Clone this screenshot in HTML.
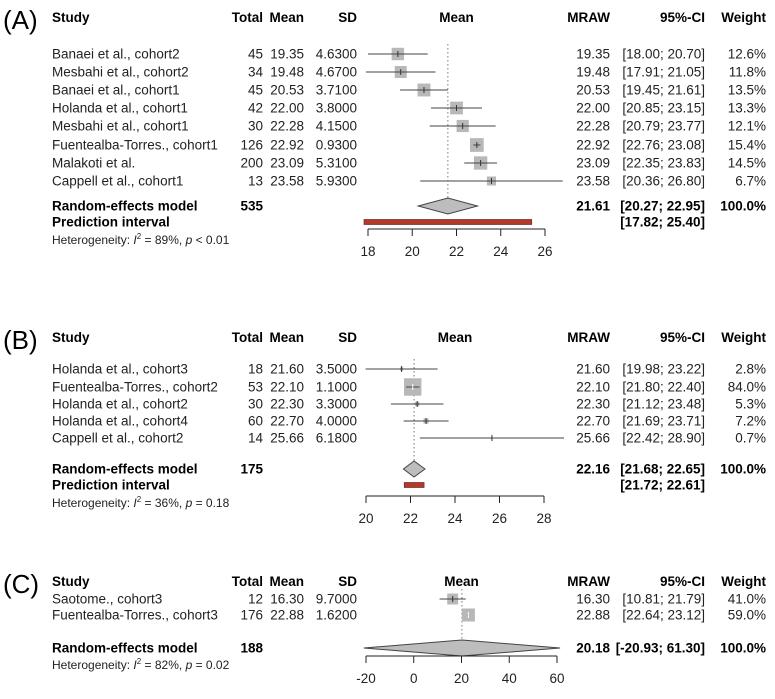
<!DOCTYPE html>
<html><head><meta charset="utf-8"><style>
body{margin:0;background:#fff;}
svg{display:block;font-family:"Liberation Sans",Arial,sans-serif;}
</style></head><body>
<svg id="c" width="775" height="699" xmlns="http://www.w3.org/2000/svg"></svg>
<script>
// ---- Panel A data ----
const studiesA = ["Banaei et al., cohort2","Mesbahi et al., cohort2","Banaei et al., cohort1","Holanda et al., cohort1","Mesbahi et al., cohort1","Fuentealba-Torres., cohort1","Malakoti et al.","Cappell et al., cohort1"];
const totalA = [45,34,45,42,30,126,200,13];
const meanA = [19.35,19.48,20.53,22.00,22.28,22.92,23.09,23.58];
const sdA = ["4.6300","4.6700","3.7100","3.8000","4.1500","0.9300","5.3100","5.9300"];
const lowA = [18.00,17.91,19.45,20.85,20.79,22.76,22.35,20.36];
const highA = [20.70,21.05,21.61,23.15,23.77,23.08,23.83,26.80];
const weightA = [12.6,11.8,13.5,13.3,12.1,15.4,14.5,6.7];
const ticksA = [18,20,22,24,26];
const pooledA = {n:535, m:21.61, lo:20.27, hi:22.95, plo:17.82, phi:25.40, het:"89%", p:"p < 0.01"};
// ---- Panel B data ----
const studiesB = ["Holanda et al., cohort3","Fuentealba-Torres., cohort2","Holanda et al., cohort2","Holanda et al., cohort4","Cappell et al., cohort2"];
const totalB = [18,53,30,60,14];
const meanB = [21.60,22.10,22.30,22.70,25.66];
const sdB = ["3.5000","1.1000","3.3000","4.0000","6.1800"];
const lowB = [19.98,21.80,21.12,21.69,22.42];
const highB = [23.22,22.40,23.48,23.71,28.90];
const weightB = [2.8,84.0,5.3,7.2,0.7];
const ticksB = [20,22,24,26,28];
const pooledB = {n:175, m:22.16, lo:21.68, hi:22.65, plo:21.72, phi:22.61, het:"36%", p:"p = 0.18"};
// ---- Panel C data ----
const studiesC = ["Saotome., cohort3","Fuentealba-Torres., cohort3"];
const totalC = [12,176];
const meanC = [16.30,22.88];
const sdC = ["9.7000","1.6200"];
const lowC = [10.81,22.64];
const highC = [21.79,23.12];
const weightC = [41.0,59.0];
const ticksC = [-20,0,20,40,60];
const pooledC = {n:188, m:20.18, lo:-20.93, hi:61.30, plo:null, phi:null, het:"82%", p:"p = 0.02"};

const NS="http://www.w3.org/2000/svg";
const svg=document.getElementById('c');
function el(tag,attrs,parent,text){const e=document.createElementNS(NS,tag);for(const k in attrs)e.setAttribute(k,attrs[k]);if(text!==undefined)e.textContent=text;(parent||svg).appendChild(e);return e;}
function f2(v){return v.toFixed(2);}
function ci(a,b){const s=v=>(v>=0&&v<10?" ":"")+f2(v);return "["+s(a)+"; "+f2(b)+"]";}
const FS=13.5;
function panel(cfg){
  const g=el('g',{});
  
  
  const x=v=>cfg.x0+(v-cfg.t0)/(cfg.t1-cfg.t0)*(cfg.x1-cfg.x0);
  const lab=el('text',{x:3,y:cfg.hy+11,'font-size':26,fill:'#000'},g,cfg.label);
  
  const hdr=el('g',{'font-size':FS,'font-weight':'bold'},g);
  
  el('text',{x:52,y:cfg.hy+4},hdr,'Study');
  el('text',{x:263,y:cfg.hy+4,'text-anchor':'end'},hdr,'Total');
  el('text',{x:304,y:cfg.hy+4,'text-anchor':'end'},hdr,'Mean');
  el('text',{x:357,y:cfg.hy+4,'text-anchor':'end'},hdr,'SD');
  el('text',{x:(cfg.x0+cfg.x1)/2,y:cfg.hy+4,'text-anchor':'middle'},hdr,'Mean');
  el('text',{x:610,y:cfg.hy+4,'text-anchor':'end'},hdr,'MRAW');
  el('text',{x:705,y:cfg.hy+4,'text-anchor':'end'},hdr,'95%-CI');
  el('text',{x:766,y:cfg.hy+4,'text-anchor':'end'},hdr,'Weight');
  const rl=el('line',{x1:x(cfg.pooled.m),x2:x(cfg.pooled.m),y1:cfg.ry[0]-10,y2:cfg.reY,stroke:'#777','stroke-dasharray':'1.5,2.5','stroke-width':1},g);
  
  cfg.studies.forEach((s,i)=>{
    const y=cfg.ry[i];
    const r=el('g',{'font-size':FS,fill:'#222'},g);
    
    el('text',{x:52,y:y+4.5},r,s);
    el('text',{x:263,y:y+4.5,'text-anchor':'end'},r,cfg.total[i]);
    el('text',{x:304,y:y+4.5,'text-anchor':'end'},r,f2(cfg.mean[i]));
    el('text',{x:357,y:y+4.5,'text-anchor':'end'},r,cfg.sd[i]);
    el('text',{x:610,y:y+4.5,'text-anchor':'end'},r,f2(cfg.mean[i]));
    el('text',{x:705,y:y+4.5,'text-anchor':'end'},r,ci(cfg.low[i],cfg.high[i]));
    el('text',{x:766,y:y+4.5,'text-anchor':'end'},r,cfg.weight[i].toFixed(1)+'%');
    const sz=cfg.sq*Math.sqrt(cfg.weight[i]);
    const sq=el('rect',{x:x(cfg.mean[i])-sz/2,y:y-sz/2,width:sz,height:sz,fill:'#b8b8b8'},g);
    
    const ln=el('line',{x1:x(cfg.low[i]),x2:x(cfg.high[i]),y1:y,y2:y,stroke:'#444','stroke-width':1},g);
    
    el('line',{x1:x(cfg.mean[i]),x2:x(cfg.mean[i]),y1:y-3,y2:y+3,stroke:cfg.weight[i]>50||sz>16&&cfg.weight[i]>14?'#fff':'#333','stroke-width':1},g);
  });
  const p=cfg.pooled, y=cfg.reY;
  const rt=el('g',{'font-size':FS,'font-weight':'bold'},g);
  
  el('text',{x:52,y:y+4.5},rt,'Random-effects model');
  el('text',{x:263,y:y+4.5,'text-anchor':'end'},rt,p.n);
  el('text',{x:610,y:y+4.5,'text-anchor':'end'},rt,f2(p.m));
  el('text',{x:705,y:y+4.5,'text-anchor':'end'},rt,ci(p.lo,p.hi));
  el('text',{x:766,y:y+4.5,'text-anchor':'end'},rt,'100.0%');
  const lo=Math.max(p.lo,cfg.t0-0.08*(cfg.t1-cfg.t0)), hi=Math.min(p.hi,cfg.t1+0.08*(cfg.t1-cfg.t0));
  const dm=el('polygon',{points:`${x(lo)},${y} ${x(p.m)},${y-8} ${x(hi)},${y} ${x(p.m)},${y+8}`,fill:'#bdbdbd',stroke:'#444','stroke-width':1},g);
  
  let hy=y+17;
  if(p.plo!==null){
    const py=y+16;
    el('text',{x:52,y:py+4.5,'font-size':FS,'font-weight':'bold'},g,'Prediction interval');
    el('text',{x:705,y:py+4.5,'font-size':FS,'font-weight':'bold','text-anchor':'end'},g,ci(p.plo,p.phi));
    const pb=el('rect',{x:x(p.plo),y:py-2.5,width:x(p.phi)-x(p.plo),height:5,fill:'#b23a2a',stroke:'#6b2a20','stroke-width':0.7},g);
    
    hy=py+18;
  }
  const ht=el('text',{x:52,y:hy+4,'font-size':12,fill:'#222'},g);
  
  ht.innerHTML=`Heterogeneity: <tspan font-style="italic">I</tspan><tspan dy="-5" font-size="8">2</tspan><tspan dy="5"> = ${p.het}, </tspan><tspan font-style="italic">p</tspan>${p.p.slice(1)}`;
  const ax=el('g',{stroke:'#222','stroke-width':1},g);
  
  el('line',{x1:x(cfg.ticks[0]),x2:x(cfg.ticks[cfg.ticks.length-1]),y1:cfg.ay,y2:cfg.ay},ax);
  cfg.ticks.forEach(t=>{
    el('line',{x1:x(t),x2:x(t),y1:cfg.ay,y2:cfg.ay+7},ax);
    const tl=el('text',{x:x(t),y:cfg.ay+27,'text-anchor':'middle','font-size':FS,fill:'#222',stroke:'none'},g,t);
    
  });
}
panel({name:'panel-a',label:'(A)',hy:18,ry:[54,72,90,108,126,145,163,181],reY:206,ay:229,
  studies:studiesA,total:totalA,mean:meanA,sd:sdA,low:lowA,high:highA,weight:weightA,ticks:ticksA,pooled:pooledA,
  t0:18,t1:26,x0:368,x1:545,sq:3.5});
panel({name:'panel-b',label:'(B)',hy:338,ry:[369,387,404,421,438],reY:469,ay:496,
  studies:studiesB,total:totalB,mean:meanB,sd:sdB,low:lowB,high:highB,weight:weightB,ticks:ticksB,pooled:pooledB,
  t0:20,t1:28,x0:366,x1:544,sq:1.9});
panel({name:'panel-c',label:'(C)',hy:582,ry:[599,615],reY:648,ay:656,
  studies:studiesC,total:totalC,mean:meanC,sd:sdC,low:lowC,high:highC,weight:weightC,ticks:ticksC,pooled:pooledC,
  t0:-20,t1:60,x0:366,x1:557,sq:1.7});
</script>
</body></html>
